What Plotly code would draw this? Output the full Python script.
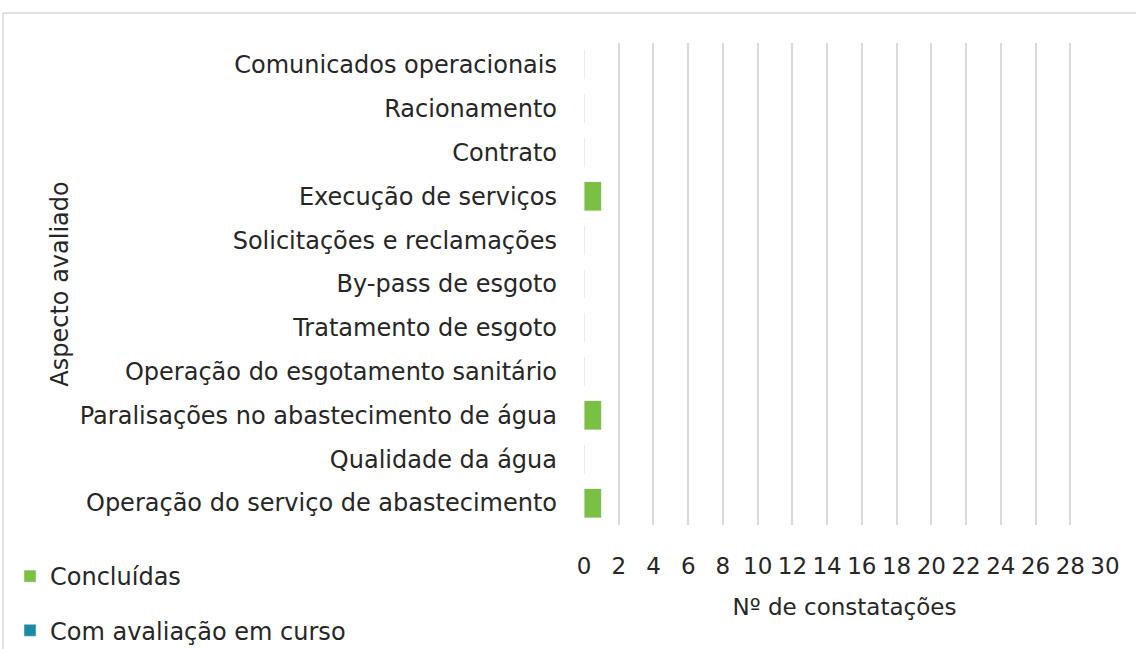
import plotly.graph_objects as go

categories = [
    "Operação do serviço de abastecimento",
    "Qualidade da água",
    "Paralisações no abastecimento de água",
    "Operação do esgotamento sanitário",
    "Tratamento de esgoto",
    "By-pass de esgoto",
    "Solicitações e reclamações",
    "Execução de serviços",
    "Contrato",
    "Racionamento",
    "Comunicados operacionais",
]
concluidas = [1, 0, 1, 0, 0, 0, 0, 1, 0, 0, 0]
em_curso = [0, 0, 0, 0, 0, 0, 0, 0, 0, 0, 0]
x_ticks = list(range(0, 31, 2))

W, H = 1136, 649
L, R, T, B = 584, 31, 43, 124
pw, ph = W - L - R, H - T - B

def px(x):
    return (x - L) / pw

def py(y):
    return (H - B - y) / ph

fig = go.Figure()
fig.add_trace(go.Bar(y=categories, x=concluidas, orientation="h", name="Concluídas",
                     marker_color="#7AC143", legendgroup="a"))
fig.add_trace(go.Bar(y=categories, x=em_curso, orientation="h", name="Com avaliação em curso",
                     marker_color="#1B8AA5", legendgroup="b"))

font = "DejaVu Sans, sans-serif"
fs = 24
fig.update_layout(
    width=W, height=H,
    margin=dict(l=L, r=R, t=T, b=B, autoexpand=False),
    barmode="stack",
    bargap=0.34,
    paper_bgcolor="white",
    plot_bgcolor="white",
    font=dict(family=font, size=fs, color="#262626"),
    xaxis=dict(range=[0, 30], tickvals=x_ticks, showgrid=True, gridcolor="#D9D9D9",
               gridwidth=1.5, zeroline=False, showline=False, ticks="",
               ticklabelstandoff=25,
               tickfont=dict(size=23, color="#262626"),
               title=dict(text="Nº de constatações", font=dict(size=23), standoff=20)),
    yaxis=dict(categoryorder="array", categoryarray=categories, showgrid=False,
               zeroline=False, showline=False, ticks="",
               ticklabelstandoff=26,
               tickfont=dict(size=fs, color="#262626"),
               title=dict(text="Aspecto avaliado", font=dict(size=fs), standoff=4)),
    legend=dict(x=px(10), y=py(554), xanchor="left", yanchor="top",
                traceorder="grouped", tracegroupgap=20,
                font=dict(size=fs, color="#262626"), bgcolor="rgba(0,0,0,0)"),
    showlegend=True,
    shapes=[
        dict(type="line", xref="paper", yref="paper", x0=px(3), x1=px(W), y0=py(13), y1=py(13),
             line=dict(color="#D9D9D9", width=1.5)),
        dict(type="line", xref="paper", yref="paper", x0=px(3), x1=px(3), y0=py(13), y1=py(H),
             line=dict(color="#D9D9D9", width=1.5)),
    ],
)
fig.write_html("out.html", config={"displayModeBar": False},
               post_script="document.body.style.margin='0';document.body.style.overflow='hidden';")
